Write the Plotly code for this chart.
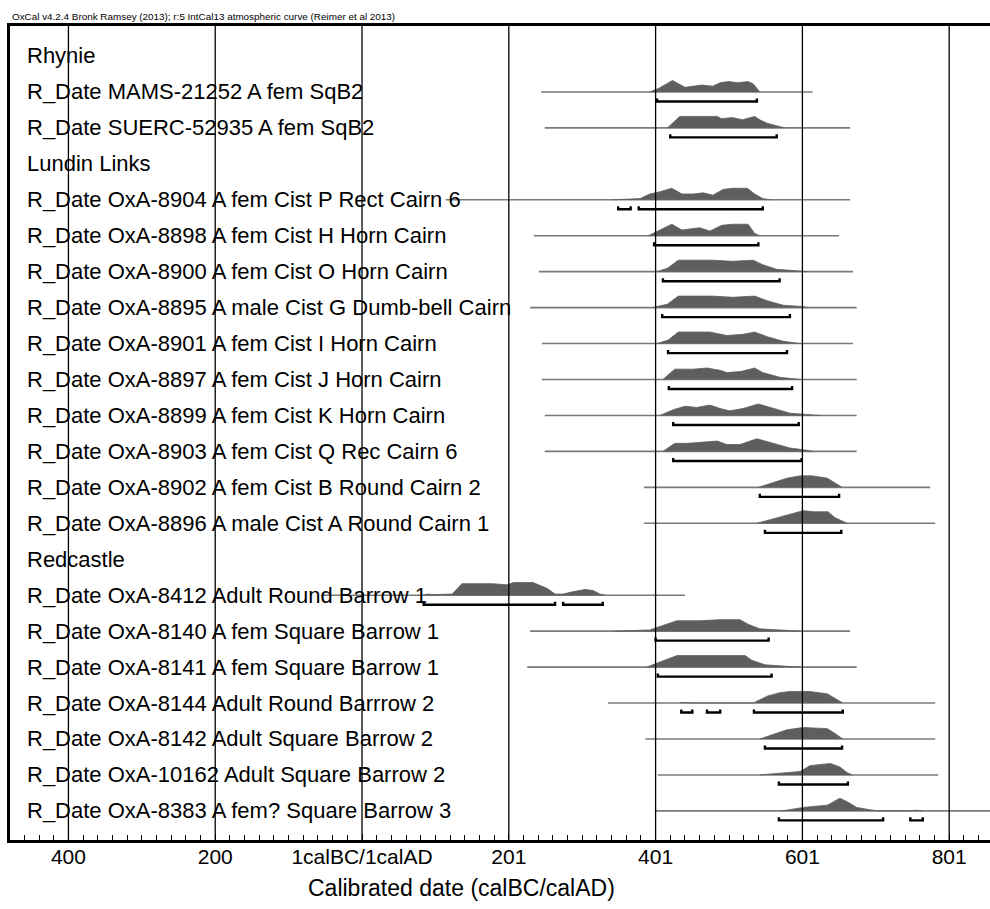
import plotly.graph_objects as go

# ---------------- data ----------------
labels = [
    "Rhynie",
    "R_Date MAMS-21252 A fem SqB2",
    "R_Date SUERC-52935 A fem SqB2",
    "Lundin Links",
    "R_Date OxA-8904 A fem Cist P Rect Cairn 6",
    "R_Date OxA-8898 A fem Cist H Horn Cairn",
    "R_Date OxA-8900 A fem Cist O Horn Cairn",
    "R_Date OxA-8895 A male Cist G Dumb-bell Cairn",
    "R_Date OxA-8901 A fem Cist I Horn Cairn",
    "R_Date OxA-8897 A fem Cist J Horn Cairn",
    "R_Date OxA-8899 A fem Cist K Horn Cairn",
    "R_Date OxA-8903 A fem Cist Q Rec Cairn 6",
    "R_Date OxA-8902 A fem Cist B Round Cairn 2",
    "R_Date OxA-8896 A male Cist A Round Cairn 1",
    "Redcastle",
    "R_Date OxA-8412 Adult Round Barrow 1",
    "R_Date OxA-8140 A fem Square Barrow 1",
    "R_Date OxA-8141 A fem Square Barrow 1",
    "R_Date OxA-8144 Adult Round Barrrow 2",
    "R_Date OxA-8142 Adult Square Barrow 2",
    "R_Date OxA-10162 Adult Square Barrow 2",
    "R_Date OxA-8383 A fem? Square Barrow 3",
]

# extent of the calculated distribution (thin line), cal years (negative = BC)
line_start = [None, 245, 250, None, 115, 235, 242, 230, 246, 246, 250, 250,
              385, 385, None, -55, 230, 226, 336, 387, 404, 400]
line_end = [None, 615, 666, None, 666, 651, 670, 675, 670, 675, 675, 675,
            775, 782, None, 441, 666, 675, 782, 782, 786, 870]

# probability distributions: calendar years and relative density
dist_years = [
    None,
    [393, 405, 424, 441, 464, 479, 489, 500, 513, 527, 534, 543],
    [417, 434, 485, 491, 506, 519, 536, 543, 553, 570, 577],
    None,
    [343, 360, 380, 393, 407, 423, 437, 452, 466, 479, 493, 506, 526, 536, 547, 557],
    [391, 403, 423, 437, 461, 475, 491, 506, 527, 536, 543],
    [403, 417, 432, 479, 506, 534, 547, 566, 598, 609],
    [397, 417, 432, 479, 506, 536, 553, 575, 600, 609],
    [403, 418, 432, 475, 498, 520, 536, 553, 575, 598],
    [411, 427, 452, 471, 489, 498, 517, 536, 547, 570, 598],
    [407, 425, 441, 457, 475, 489, 502, 520, 541, 561, 584, 615, 625],
    [411, 427, 444, 461, 485, 498, 516, 539, 561, 584, 607, 615],
    [541, 566, 580, 598, 614, 635, 643, 655],
    [539, 561, 584, 602, 618, 636, 645, 662],
    None,
    [84, 90, 98, 124, 137, 179, 199, 207, 234, 253, 264, 275, 288, 305, 316, 325, 332],
    [343, 393, 411, 430, 461, 489, 516, 527, 543, 584, 598],
    [389, 411, 430, 489, 523, 532, 550, 584, 598],
    [434, 441, 448, 472, 480, 489, 534, 553, 570, 584, 611, 635, 645, 656],
    [543, 561, 580, 602, 635, 645, 656],
    [543, 580, 598, 611, 639, 652, 662, 669],
    [573, 602, 635, 652, 662, 675, 693, 703, 748, 756, 764],
]
dist_dens = [
    None,
    [0, 3, 10, 4, 6, 5, 8, 9, 8, 9, 7, 0],
    [0, 10, 10, 8, 9, 7, 10, 7, 4, 1, 0],
    None,
    [0, 0.5, 1, 5, 7, 10, 5, 5, 6, 4, 9, 10, 10, 5, 1, 0],
    [0, 4, 10, 5, 7, 4, 9, 10, 10, 2, 0],
    [0, 3, 10, 10, 9, 10, 6, 2, 0.5, 0],
    [0, 3, 10, 10, 9, 10, 6, 2, 1, 0],
    [0, 3, 10, 10, 7, 8, 10, 6, 2, 0],
    [0, 9, 9, 10, 8, 6, 7, 10, 6, 2, 0],
    [0, 5, 8, 7, 9, 6, 4, 6, 10, 6, 2, 0.5, 0],
    [0, 7, 7, 8, 9, 6, 6, 11, 7, 3, 1, 0],
    [0, 5, 8, 10, 10, 8, 5, 0],
    [0, 4, 8, 11, 10, 10, 5, 0],
    None,
    [0, 1, 0.5, 1, 10, 10, 9, 11, 11, 6, 1, 1, 3, 5, 4, 1, 0],
    [0, 1, 5, 9, 9, 10, 10, 6, 2, 0.5, 0],
    [0, 5, 10, 10, 10, 6, 2, 0.5, 0],
    [0, 0.6, 0, 0, 0.6, 0, 0, 6, 9, 10, 10, 8, 4, 0],
    [0, 4, 8, 10, 9, 5, 0],
    [0, 2, 3, 8, 10, 7, 2, 0],
    [0, 3, 5, 11, 8, 3, 1, 0, 0, 0.6, 0],
]

# 95.4% ranges (start, end) per row
range_start = [None, [403], [421], None, [350, 378], [399], [411], [410], [418],
               [419], [425], [425], [543], [550], None, [85, 275], [401], [404],
               [436, 471, 535], [550], [569], [569, 748]]
range_end = [None, [539], [566], None, [367, 547], [541], [570], [584], [580],
             [587], [596], [600], [651], [654], None, [264, 329], [555], [559],
             [451, 489, 656], [655], [663], [711, 765]]

tick_vals = [-399, -199, 1, 201, 401, 601, 801]
tick_text = ["400", "200", "1calBC/1calAD", "201", "401", "601", "801"]

header = "OxCal v4.2.4 Bronk Ramsey (2013); r:5 IntCal13 atmospheric curve (Reimer et al 2013)"
x_title = "Calibrated date (calBC/calAD)"

# ---------------- styling constants ----------------
FONT = "Liberation Sans, Arial, sans-serif"
ROW_PX = 35.95
DENS = 1.15 / ROW_PX       # one density unit ~ 1.15 pixel
BR_OFF = 0.265             # bracket offset below baseline (row units)
BR_TICK = 0.085
X_RANGE = [-478.6, 856.6]
Y_RANGE = [-21.81, 0.834]

fig = go.Figure()

for i, lab in enumerate(labels):
    y0 = -i
    if line_start[i] is None:
        continue
    fig.add_trace(go.Scatter(
        x=[line_start[i], line_end[i]], y=[y0, y0], mode="lines",
        line=dict(color="#7a7a7a", width=1.6), hoverinfo="skip", showlegend=False))
    fig.add_trace(go.Scatter(
        x=dist_years[i], y=[y0 + d * DENS for d in dist_dens[i]],
        mode="lines", fill="toself", fillcolor="#5e5e5e",
        line=dict(color="#5e5e5e", width=0.8), hoverinfo="skip", showlegend=False))
    for s, e in zip(range_start[i], range_end[i]):
        yb = y0 - BR_OFF
        fig.add_trace(go.Scatter(
            x=[s, s, e, e], y=[yb + BR_TICK, yb, yb, yb + BR_TICK], mode="lines",
            line=dict(color="black", width=2.4), hoverinfo="skip", showlegend=False))

# vertical grid lines at the major ticks (drawn above the distributions)
for tv in tick_vals:
    fig.add_shape(type="line", xref="x", yref="paper", x0=tv, x1=tv, y0=0, y1=1,
                  line=dict(color="black", width=1.3), layer="above")

# row labels
for i, lab in enumerate(labels):
    fig.add_annotation(x=15 / 980, xref="paper", y=-i, yref="y", text=lab,
                       showarrow=False, xanchor="left", yanchor="middle",
                       font=dict(family=FONT, size=22, color="black"))

fig.add_annotation(x=0, xref="paper", y=1 + 9 / 814, yref="paper", text=header,
                   showarrow=False, xanchor="left", yanchor="middle",
                   font=dict(family=FONT, size=9.9, color="black"))
fig.add_annotation(x=(461 - 10) / 980, xref="paper", y=-48 / 814, yref="paper",
                   text=x_title, showarrow=False, xanchor="center", yanchor="middle",
                   font=dict(family=FONT, size=23, color="black"))

fig.update_xaxes(
    range=X_RANGE, tickmode="array", tickvals=tick_vals, ticktext=tick_text,
    ticks="inside", ticklen=6, tickcolor="black", tickwidth=1.3,
    tickfont=dict(family=FONT, size=21, color="black"),
    ticklabelstandoff=-4,
    showgrid=False, zeroline=False,
    showline=True, linecolor="black", linewidth=2.6, mirror=True,
    minor=dict(tickmode="linear", tick0=1, dtick=20, ticks="inside",
               ticklen=5, tickcolor="black", tickwidth=1, showgrid=False),
)
fig.update_yaxes(
    range=Y_RANGE, showticklabels=False, ticks="", showgrid=False, zeroline=False,
    showline=True, linecolor="black", linewidth=2.6, mirror=False,
)

fig.update_layout(
    width=990, height=909,
    margin=dict(l=10, r=0, t=26, b=69),
    plot_bgcolor="white", paper_bgcolor="white",
    showlegend=False,
    font=dict(family=FONT, color="black"),
)

fig.write_html("out.html", config={"displayModeBar": False},
               post_script="document.body.style.margin='0';")
